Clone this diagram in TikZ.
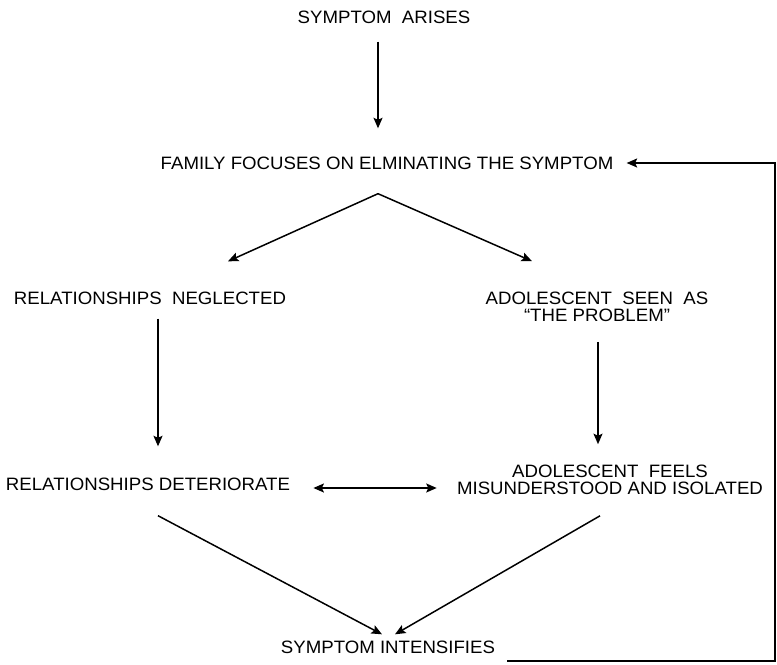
\documentclass[tikz,border=0pt]{standalone}
\usepackage{fontspec}
\setmainfont[FakeStretch=1.04]{Liberation Sans}
\usetikzlibrary{arrows.meta, calc}

\begin{document}
\begin{tikzpicture}[x=0.02cm, y=-0.02cm,
    lbl/.style={inner sep=0pt, align=center, font=\fontsize{10.2}{9.8}\selectfont},
    arr/.style={line width=0.85pt, -{Stealth[length=2.1mm, width=1.8mm, inset=0.4mm]}},
    dbl/.style={line width=0.85pt, {Stealth[length=2.1mm, width=1.8mm, inset=0.4mm]}-{Stealth[length=2.1mm, width=1.8mm, inset=0.4mm]}}]
          \useasboundingbox (0,0) rectangle (777,665);
          % labels
          \node[lbl] (arises) at (384,17) {SYMPTOM~ ARISES};
          \node[lbl] (family) at (387,163) {FAMILY FOCUSES ON ELMINATING THE SYMPTOM};
          \node[lbl] (neglected) at (150,298) {RELATIONSHIPS~ NEGLECTED};
          \node[lbl] (seen) at (597,306.5) {ADOLESCENT~ SEEN~ AS\\``THE PROBLEM''};
          \node[lbl] (deteriorate) at (148,484) {RELATIONSHIPS DETERIORATE};
          \node[lbl] (feels) at (610,479.5) {ADOLESCENT~ FEELS\\MISUNDERSTOOD AND ISOLATED};
          \node[lbl] (intensifies) at (388,647) {SYMPTOM INTENSIFIES};
          \coordinate (fork) at ($(family.south)+(-9,24)$);
          \coordinate (loop) at (775,163);
          \coordinate (dleft) at ($(deteriorate.east)+(23,4)$);
          % arrows
          \draw[arr] ($(arises.south)+(-6,18)$) -- ($(family.north)+(-9,-28)$);
          \draw[arr] (fork) -- ($(neglected.north)+(78,-30)$);
          \draw[arr] (fork) -- ($(seen.north)+(-65,-30)$);
          \draw[arr] ($(neglected.south)+(8,14)$) -- ($(deteriorate.north)+(10,-31)$);
          \draw[arr] ($(seen.south)+(1,20)$) -- ($(feels.north)+(-12,-20)$);
          \draw[dbl, shorten >=0.4cm] (dleft) -- (dleft -| feels.west);
          \draw[arr] ($(deteriorate.south)+(10,25)$) -- ($(intensifies.north)+(-6,-6)$);
          \draw[arr] ($(feels.south)+(-10,21)$) -- ($(intensifies.north)+(7,-6)$);
          % feedback loop
          \draw[arr] ($(intensifies.east)+(12,14)$) -| (loop) -- ($(family.east)+(13,0)$);
        \end{tikzpicture}
\end{document}
